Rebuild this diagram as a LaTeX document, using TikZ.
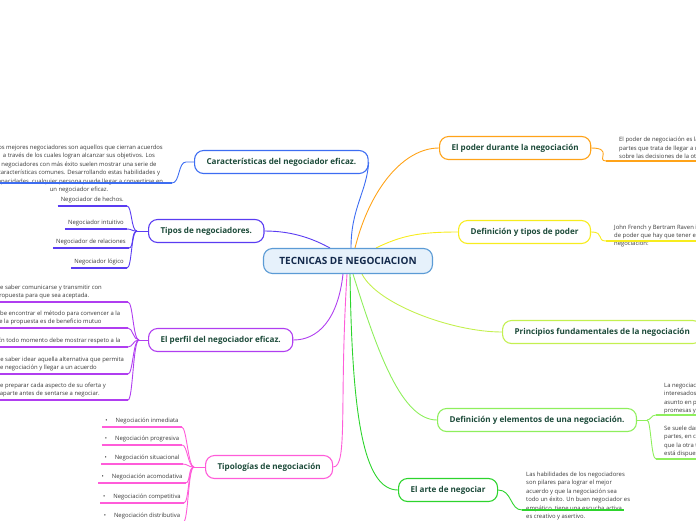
\documentclass[tikz,border=0pt]{standalone}
\usepackage{fontspec}
\setmainfont{Open Sans}
\usetikzlibrary{backgrounds}

\definecolor{hubfill}{HTML}{E6F1FB}
\definecolor{hubline}{HTML}{5B9BD5}
\definecolor{hubtext}{HTML}{13294B}
\definecolor{branchtext}{HTML}{1D4B3A}
\definecolor{leaftext}{HTML}{3A3A3A}
\definecolor{cBlue}{HTML}{3D6DF2}
\definecolor{cIndigo}{HTML}{5A3CF2}
\definecolor{cPurple}{HTML}{B03EF0}
\definecolor{cPink}{HTML}{FF5CD9}
\definecolor{cOrange}{HTML}{FFA319}
\definecolor{cYellow}{HTML}{F7EC1E}
\definecolor{cLime}{HTML}{C4F050}
\definecolor{cGreen}{HTML}{8EEF5C}
\definecolor{cLeaf}{HTML}{2DD42D}

% text that runs past the left page edge
\newcommand{\offpage}[1]{\leavevmode\llap{#1}}

\begin{document}
\begin{tikzpicture}[x=1pt, y=-1pt,
  hub/.style={draw=hubline, fill=hubfill, line width=1.1pt, rounded corners=9pt,
    minimum width=169pt, minimum height=25pt, text=hubtext,
    font=\bfseries\fontsize{10}{12}\selectfont},
  branch/.style={draw=#1, fill=white, line width=1.1pt, rounded corners=9pt,
    minimum height=23pt, inner xsep=12pt, text=branchtext,
    font=\bfseries\fontsize{8.1}{9}\selectfont},
  leaf/.style={font=\fontsize{5.9}{8.4}\selectfont, text=leaftext,
    inner xsep=3pt, inner ysep=2.5pt},
  link/.style={draw=#1, line width=0.9pt},
  uline/.style={draw=#1, line width=1.6pt}]
  \useasboundingbox (0,0) rectangle (696,520);

  % Central topic
  \node[hub] (tnc) at (348,261) {TECNICAS DE NEGOCIACION};

  % Main branches
  \node[branch=cBlue, anchor=west] (rasgos) at (194,162) {Características del negociador eficaz.};
  \node[branch=cIndigo, anchor=west] (tipos) at (148,231) {Tipos de negociadores.};
  \node[branch=cPurple, anchor=west] (perfil) at (148,340) {El perfil del negociador eficaz.};
  \node[branch=cPink, anchor=west] (tipol) at (205,467) {Tipologías de negociación};
  \node[branch=cOrange, anchor=west] (poder) at (439,148) {El poder durante la negociación};
  \node[branch=cYellow, anchor=west] (deftipos) at (458,232) {Definición y tipos de poder};
  \node[branch=cLime, anchor=west] (princ) at (502,332) {Principios fundamentales de la negociación};
  \node[branch=cGreen, anchor=west] (defelem) at (437,420) {Definición y elementos de una negociación.};
  \node[branch=cLeaf, anchor=west] (arte) at (398,490) {El arte de negociar};

  % Caracteristicas
  \node[leaf, align=center] (rasgosT) at (79,169)
    {Los mejores negociadores son aquellos que cierran acuerdos\\
     a través de los cuales logran alcanzar sus objetivos. Los\\
     negociadores con más éxito suelen mostrar una serie de\\
     características comunes. Desarrollando estas habilidades y\\
     capacidades, cualquier persona puede llegar a convertirse en\\
     un negociador eficaz.};
  \coordinate (rasgosU) at (172,183);
  \coordinate (rasgosU0) at (-5,183);
  \coordinate (rasgosJ) at (186,162);
  \draw[uline=cBlue] (rasgosU) -- (rasgosU0);

  % Tipos de negociadores
  \node[leaf, anchor=south east] (neg1) at (127,206) {Negociador de hechos.};
  \node[leaf, anchor=south east] (neg2) at (127,229) {Negociador intuitivo};
  \node[leaf, anchor=south east] (neg3) at (129,248) {Negociador de relaciones};
  \node[leaf, anchor=south east] (neg4) at (127,268) {Negociador lógico};
  \coordinate (tiposJ) at (137,231);
  \foreach \n in {neg1,neg2,neg3,neg4}
    \draw[uline=cIndigo] (\n.south west) -- (\n.south east);

  % Perfil del negociador
  \node[leaf, align=left, inner xsep=0pt, anchor=south west] (rule1) at (0,302)
    {\offpage{Deb}e saber comunicarse y transmitir con\\
     \hspace*{5pt}\offpage{claridad su pro}puesta para que sea aceptada.};
  \node[leaf, align=left, inner xsep=0pt, anchor=south west] (rule2) at (0,328)
    {\offpage{De}be encontrar el método para convencer a la\\
     \hspace*{4pt}\offpage{otra parte de que }la propuesta es de beneficio mutuo};
  \node[leaf, align=left, inner xsep=0pt, anchor=south west] (rule3) at (0,347)
    {\hspace*{1pt}\offpage{E}n todo momento debe mostrar respeto a la};
  \node[leaf, align=left, inner xsep=0pt, anchor=south west] (rule4) at (0,374)
    {\hspace*{5pt}\offpage{Debe }saber idear aquella alternativa que permita\\
     \offpage{cerrar el proceso d}e negociación y llegar a un acuerdo};
  \node[leaf, align=left, inner xsep=0pt, anchor=south west] (rule5) at (0,400)
    {\offpage{Deb}e preparar cada aspecto de su oferta y\\
     \hspace*{3pt}\offpage{conocer a la contra}parte antes de sentarse a negociar.};
  \coordinate (perfilJ) at (139,340);
  \foreach \n/\y in {rule1/302,rule2/328,rule3/347,rule4/374,rule5/400}{
    \coordinate (\n e) at (128,\y);
    \draw[uline=cPurple] (\n.south west) -- (\n e);
  }

  % Tipologias
  \foreach \n/\t/\y in {tip1/inmediata/427, tip2/progresiva/445, tip3/situacional/464,
      tip4/acomodativa/483, tip5/competitiva/503, tip6/distributiva/522}{
    \node[leaf, anchor=south] (\n) at (142,\y) {•\hspace{8pt}Negociación \t};
    \draw[uline=cPink] (\n.south west) -- (\n.south east);
  }
  \coordinate (tipolJ) at (194,467);

  % El poder
  \node[leaf, align=left, inner xsep=0pt, anchor=west] (poderT) at (619,148.5)
    {El poder de negociación es la capacidad de las\\
     partes que trata de llegar a un acuerdo de influir\\
     sobre las decisiones de la otra parte.};
  \coordinate (poderU) at (606,161);
  \coordinate (poderU2) at (700,161);
  \draw[uline=cOrange] (poderU) -- (poderU2);

  % Tipos de poder
  \node[leaf, align=left, inner xsep=0pt, anchor=west] (deftiposT) at (614,236)
    {John French y Bertram Raven identificaron los tipos\\
     de poder que hay que tener en cuenta en una\\
     negociación:};
  \coordinate (deftiposU) at (606,241);
  \coordinate (deftiposU2) at (700,241);
  \draw[uline=cYellow] (deftiposU) -- (deftiposU2);

  % Definicion y elementos
  \node[leaf, align=left, inner xsep=0pt, anchor=west] (elem1) at (664,398.5)
    {La negociación es una relación entre partes\\
     interesados que buscan un acuerdo sobre un\\
     asunto en particular, intercambiando\\
     promesas y compromisos.};
  \node[leaf, align=left, inner xsep=0pt, anchor=west] (elem2) at (664,441.5)
    {Se suele dar cuando ambas\\
     partes, en cierto modo, creen\\
     que la otra tiene algo que\\
     está dispuesta a ofrecer.};
  \coordinate (elem1U) at (656,415);
  \coordinate (elem1U2) at (700,415);
  \coordinate (elem2U) at (656,459);
  \coordinate (elem2U2) at (700,459);
  \coordinate (defelemJ) at (647,420);
  \draw[uline=cGreen] (elem1U) -- (elem1U2);
  \draw[uline=cGreen] (elem2U) -- (elem2U2);

  % El arte de negociar
  \node[leaf, align=left, inner xsep=0pt, anchor=west] (arteT) at (526,496)
    { Las habilidades de los negociadores\\
     son pilares para lograr el mejor\\
     acuerdo y que la negociación sea\\
     todo un éxito. Un buen negociador es\\
     empático, tiene una escucha activa,\\
     es creativo y asertivo.};
  \coordinate (arteU) at (522,510);
  \coordinate (arteU2) at (624,510);
  \draw[uline=cLeaf] (arteU) -- (arteU2);

  % Connectors
  \begin{scope}[on background layer]
    \draw[link=cBlue] ([xshift=3pt]tnc.north) .. controls +(0,-40) and +(-2,30) .. (rasgos.east);
    \draw[link=cIndigo] ([xshift=-18pt]tnc.north) .. controls +(-15,-8) and +(30,0) .. (tipos.east);
    \draw[link=cPurple] ([xshift=-5pt]tnc.south) .. controls +(-5,45) and +(25,0) .. (perfil.east);
    \draw[link=cPink] ([xshift=-1pt]tnc.south) .. controls +(-8,130) and +(15,0) .. (tipol.east);
    \draw[link=cOrange] ([xshift=7pt]tnc.north) .. controls +(15,-60) and +(-35,0) .. (poder.west);
    \draw[link=cYellow] ([xshift=28pt]tnc.north) .. controls +(25,-12) and +(-40,0) .. (deftipos.west);
    \draw[link=cLime] ([xshift=14pt]tnc.south) .. controls +(15,30) and +(-50,0) .. (princ.west);
    \draw[link=cGreen] ([xshift=5pt]tnc.south) .. controls +(25,80) and +(-35,0) .. (defelem.west);
    \draw[link=cLeaf] ([xshift=2pt]tnc.south) .. controls +(2,140) and +(-35,0) .. (arte.west);

    \draw[link=cBlue] (rasgos.west) -- (rasgosJ) .. controls +(-8,0) and +(8,0) .. (rasgosU);
    \draw[link=cIndigo] (tipos.west) -- (tiposJ);
    \foreach \n in {neg1,neg2,neg3,neg4}
      \draw[link=cIndigo] (tiposJ) .. controls +(-6,0) and +(5,0) .. (\n.south east);
    \draw[link=cPurple] (perfil.west) -- (perfilJ);
    \foreach \n in {rule1,rule2,rule3,rule4,rule5}
      \draw[link=cPurple] (perfilJ) .. controls +(-6,0) and +(5,0) .. (\n e);
    \draw[link=cPink] (tipol.west) -- (tipolJ);
    \foreach \n in {tip1,tip2,tip3,tip4,tip5,tip6}
      \draw[link=cPink] (tipolJ) .. controls +(-6,0) and +(5,0) .. (\n.south east);
    \draw[link=cOrange] (poder.east) .. controls +(22,0) and +(-10,0) .. (poderU);
    \draw[link=cYellow] (deftipos.east) .. controls +(14,0) and +(-10,0) .. (deftiposU);
    \draw[link=cGreen] (defelem.east) -- (defelemJ);
    \draw[link=cGreen] (defelemJ) .. controls +(4,0) and +(-5,0) .. (elem1U);
    \draw[link=cGreen] (defelemJ) .. controls +(4,0) and +(-5,0) .. (elem2U);
    \draw[link=cLeaf] (arte.east) .. controls +(14,0) and +(-12,0) .. (arteU);
  \end{scope}
\end{tikzpicture}
\end{document}
